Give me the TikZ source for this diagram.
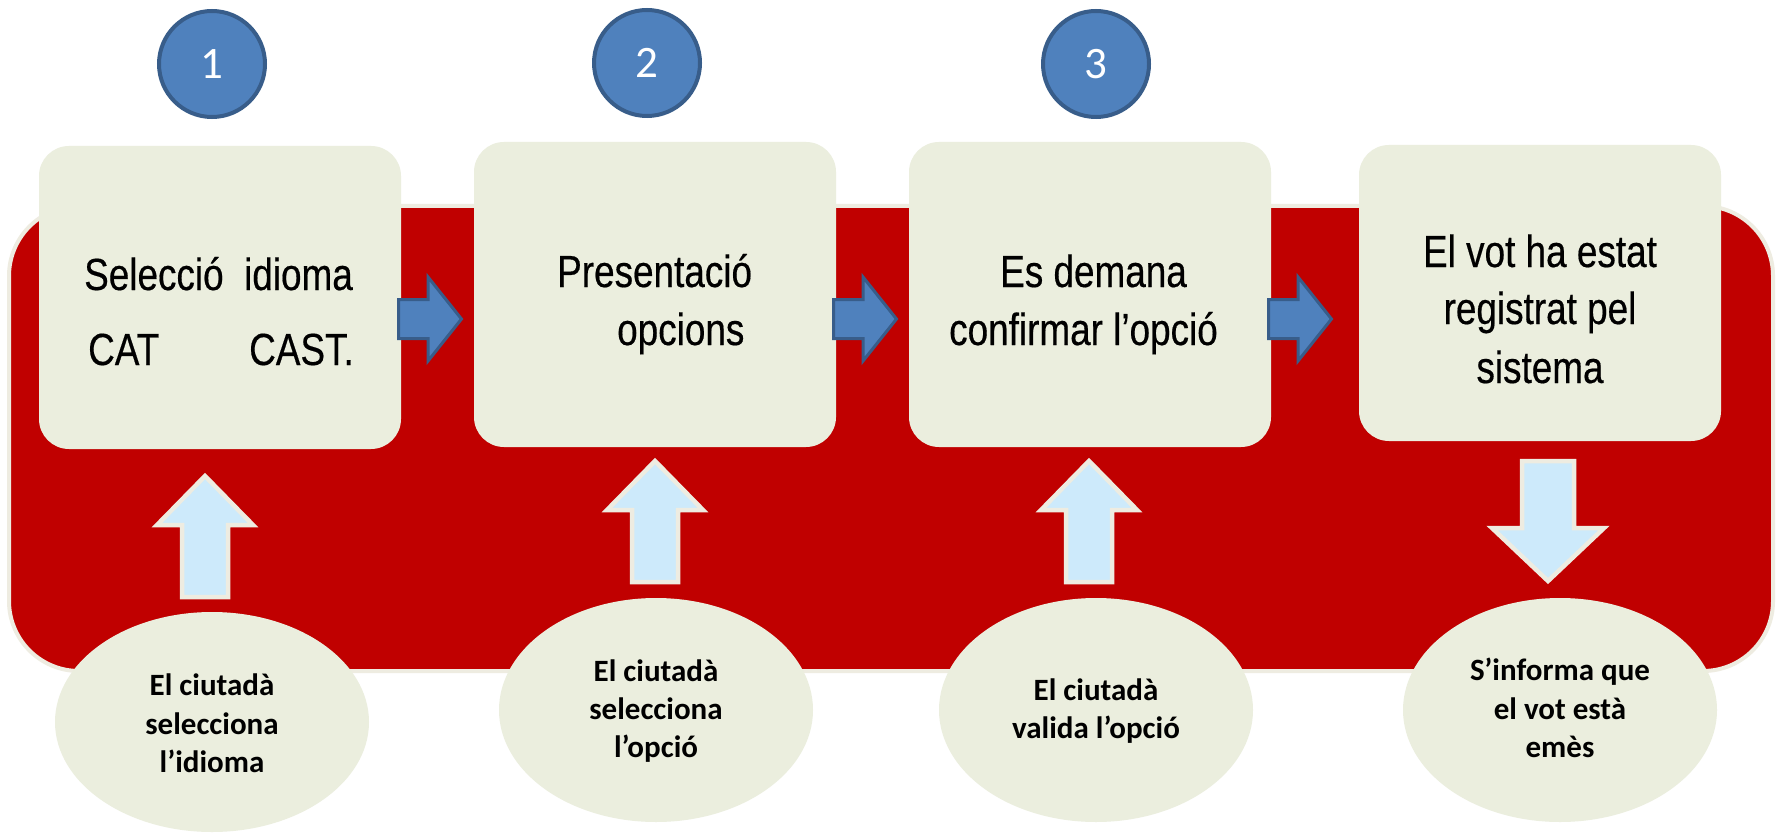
\documentclass[tikz,border=0pt]{standalone}
\usepackage{fontspec}
\setmainfont{Liberation Sans}
\newfontfamily\narrowfont[FakeStretch=0.82,FakeBold=0.4]{Liberation Sans}
\newfontfamily\calfont{Carlito}
\usetikzlibrary{shapes.geometric}
\definecolor{redbg}{HTML}{C00000}
\definecolor{beigeline}{HTML}{EEECE1}
\definecolor{boxfill}{HTML}{EBEEDE}
\definecolor{blueA}{HTML}{4F81BD}
\definecolor{blueB}{HTML}{385D8A}
\definecolor{lightblue}{HTML}{CDEAFB}
\tikzset{
  stepbox/.style={rectangle, rounded corners=30pt, fill=boxfill, draw=none, minimum width=362pt, inner sep=0pt},
  numcircle/.style={circle, fill=blueA, draw=blueB, line width=4pt, minimum size=106pt, inner sep=0pt, text=white, font=\calfont\fontsize{45}{50}\selectfont},
  ellnode/.style={ellipse, fill=boxfill, draw=none, minimum width=314pt, inner sep=0pt},
  boxtext/.style={inner sep=0pt, anchor=base west, font=\narrowfont\fontsize{45}{50}\selectfont},
  elltext/.style={inner sep=0pt, anchor=base, font=\calfont\bfseries\fontsize{31}{38}\selectfont},
  harrow/.pic={\draw[fill=blueA, draw=blueB, line width=3pt, line join=miter]
     (1.5,-19.5) -- (31,-19.5) -- (31,-42) -- (64.5,0) -- (31,42) -- (31,19.5) -- (1.5,19.5) -- cycle;},
  uparrow/.pic={\draw[fill=lightblue, draw=beigeline, line width=4.5pt, line join=miter]
     (0,3) -- (48,52) -- (23,52) -- (23,124) -- (-23,124) -- (-23,52) -- (-48,52) -- cycle;},
  downarrow/.pic={\draw[fill=lightblue, draw=beigeline, line width=4.5pt, line join=miter]
     (0,-3) -- (56,-56) -- (26,-56) -- (26,-123) -- (-26,-123) -- (-26,-56) -- (-56,-56) -- cycle;},
}
\begin{document}
\begin{tikzpicture}[x=1pt,y=-1pt]
\useasboundingbox[fill=white] (0,0) rectangle (1776,834);

% background band
\node[rectangle, rounded corners=70pt, fill=redbg, draw=beigeline, line width=4pt,
      minimum width=1764pt, minimum height=465pt, inner sep=0pt] (band) at (891,438.5) {};

% step boxes
\node[stepbox, minimum height=303pt] (b1) at (220,297.5) {};
\node[stepbox, minimum height=305pt] (b2) at (655,294.5) {};
\node[stepbox, minimum height=305pt] (b3) at (1090,294.5) {};
\node[stepbox, minimum height=296pt] (b4) at (1540,293) {};

% horizontal block arrows
\coordinate (h1) at (397,319);
\coordinate (h2) at (832,319);
\coordinate (h3) at (1267,319);
\pic at (h1) {harrow};
\pic at (h2) {harrow};
\pic at (h3) {harrow};

% vertical block arrows
\coordinate (u1) at (205,473);
\coordinate (u2) at (655,458);
\coordinate (u3) at (1089,458);
\coordinate (d4) at (1548,584);
\pic at (u1) {uparrow};
\pic at (u2) {uparrow};
\pic at (u3) {uparrow};
\pic at (d4) {downarrow};

% ellipses
\node[ellnode, minimum height=220pt] (e1) at (212,722) {};
\node[ellnode, minimum height=224pt] (e2) at (656,710) {};
\node[ellnode, minimum height=224pt] (e3) at (1096,710) {};
\node[ellnode, minimum height=224pt] (e4) at (1560,710) {};

% numbered circles
\node[numcircle] (c1) at (212,64) {1};
\node[numcircle] (c2) at (647,63) {2};
\node[numcircle] (c3) at (1096,64) {3};

% box texts
\node[boxtext] (t1a) at (84,290) {Selecció\ \ idioma};
\node[boxtext] (t1b) at (88,365) {CAT};
\node[boxtext] (t1c) at (249,365) {CAST.};
\node[boxtext] (t2a) at (557,287) {Presentació};
\node[boxtext] (t2b) at (617,345) {opcions};
\node[boxtext] (t3a) at (1000,287) {Es demana};
\node[boxtext] (t3b) at (949,345) {confirmar l’opció};
\node[boxtext, anchor=base] (t4a) at (1540,267) {El vot ha estat};
\node[boxtext, anchor=base] (t4b) at (1540,324) {registrat pel};
\node[boxtext, anchor=base] (t4c) at (1540,383) {sistema};

% ellipse texts
\node[elltext] (s1a) at (212,695) {El ciutadà};
\node[elltext] (s1b) at (212,734) {selecciona};
\node[elltext] (s1c) at (212,772) {l’idioma};
\node[elltext] (s2a) at (656,681) {El ciutadà};
\node[elltext] (s2b) at (656,719) {selecciona};
\node[elltext] (s2c) at (656,757) {l’opció};
\node[elltext] (s3a) at (1096,700) {El ciutadà};
\node[elltext] (s3b) at (1096,738) {valida l’opció};
\node[elltext] (s4a) at (1560,680) {S’informa que};
\node[elltext] (s4b) at (1560,719) {el vot està};
\node[elltext] (s4c) at (1560,757) {emès};
\end{tikzpicture}
\end{document}
